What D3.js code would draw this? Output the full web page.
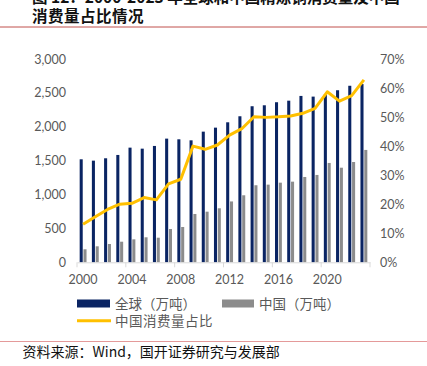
<!DOCTYPE html>
<html>
<head>
<meta charset="utf-8">
<script src="https://cdn.jsdelivr.net/npm/d3@7"></script>
<style>
  html, body { margin: 0; padding: 0; background: #fff; }
  svg { display: block; }
</style>
</head>
<body>
<div id="chart"></div>
<script>
// data
var years = d3.range(2000, 2024);
var globalUse = [1520, 1500, 1535, 1584, 1692, 1677, 1717, 1825, 1815, 1800, 1928, 1987,
  2066, 2155, 2303, 2317, 2362, 2385, 2455, 2445, 2480, 2539, 2605, 2630];
var chinaUse = [192, 236, 270, 304, 339, 369, 363, 491, 521, 713, 747, 797,
  898, 989, 1137, 1146, 1175, 1190, 1259, 1289, 1466, 1396, 1480, 1658];
var chinaShare = [0.131, 0.157, 0.182, 0.200, 0.203, 0.223, 0.215, 0.270, 0.286, 0.400, 0.389, 0.404,
  0.438, 0.460, 0.501, 0.499, 0.501, 0.504, 0.513, 0.530, 0.587, 0.555, 0.574, 0.628];
var leftTicks = [0, 500, 1000, 1500, 2000, 2500, 3000];
var rightTicks = [0, 0.1, 0.2, 0.3, 0.4, 0.5, 0.6, 0.7];
var xLabelYears = [2000, 2004, 2008, 2012, 2016, 2020];

var width = 427, height = 366;
var plot = { left: 77, right: 370, top: 59, bottom: 262.3 };
var navy = "#0a2463", grey = "#8c8c8c", gold = "#ffc000", textGrey = "#595959";
var numFont = "Lato, 'Liberation Sans', sans-serif";
var cjkFont = "'Noto Sans CJK SC', sans-serif";

var svg = d3.select("#chart").append("svg").attr("width", width).attr("height", height);

// title (first line is cut by the top edge)
svg.append("text").attr("x", 32).attr("y", 2.5)
  .style("font", "bold 15.5px " + cjkFont).attr("fill", "#111")
  .text("图 12：2000-2023 年全球和中国精炼铜消费量及中国");
svg.append("text").attr("x", 32).attr("y", 22)
  .style("font", "bold 15.5px " + cjkFont).attr("fill", "#111")
  .style("letter-spacing", "0.5px")
  .text("消费量占比情况");
svg.append("line").attr("x1", 0).attr("x2", width).attr("y1", 27).attr("y2", 27)
  .attr("stroke", "#c0504d").attr("stroke-width", 1);

var x = d3.scaleBand().domain(years).range([plot.left, plot.right]);
var xs = d3.scaleBand().domain(["global", "china"]).range([0, x.bandwidth()])
  .paddingInner(0.2).paddingOuter(0.7);
var yL = d3.scaleLinear().domain([0, 3000]).range([plot.bottom, plot.top]);
var yR = d3.scaleLinear().domain([0, 0.7]).range([plot.bottom, plot.top]);

// left axis
var gL = svg.append("g").attr("transform", "translate(" + (plot.left - 11) + ",0)")
  .call(d3.axisLeft(yL).tickValues(leftTicks).tickSize(0).tickPadding(0).tickFormat(d3.format(",")));
gL.select(".domain").remove();
gL.selectAll("text").attr("fill", textGrey).style("font", "12.5px " + numFont);

// right axis
var gR = svg.append("g").attr("transform", "translate(" + (plot.right + 10) + ",0)")
  .call(d3.axisRight(yR).tickValues(rightTicks).tickSize(0).tickPadding(0).tickFormat(d3.format(".0%")));
gR.select(".domain").remove();
gR.selectAll("text").attr("fill", textGrey).style("font", "12.5px " + numFont);

// bars
svg.append("g").selectAll("rect.g").data(years).enter().append("rect")
  .attr("x", function (d) { return x(d) + xs("global"); })
  .attr("width", xs.bandwidth())
  .attr("y", function (d, i) { return yL(globalUse[i]); })
  .attr("height", function (d, i) { return yL(0) - yL(globalUse[i]); })
  .attr("fill", navy);
svg.append("g").selectAll("rect.c").data(years).enter().append("rect")
  .attr("x", function (d) { return x(d) + xs("china"); })
  .attr("width", xs.bandwidth())
  .attr("y", function (d, i) { return yL(chinaUse[i]); })
  .attr("height", function (d, i) { return yL(0) - yL(chinaUse[i]); })
  .attr("fill", grey);

// x axis
var gX = svg.append("g").attr("transform", "translate(0," + plot.bottom + ")")
  .call(d3.axisBottom(x).tickValues(xLabelYears).tickSize(0).tickPadding(13));
gX.select(".domain").attr("stroke", "#d9d9d9");
gX.selectAll("text").attr("fill", textGrey).style("font", "12.5px " + numFont);
var tickPos = years.filter(function (d) { return (d - 2000) % 4 === 0; }).map(function (d) { return x(d); });
tickPos.push(plot.right);
gX.selectAll("line.tk").data(tickPos).enter().append("line")
  .attr("x1", function (d) { return d; }).attr("x2", function (d) { return d; })
  .attr("y1", 0).attr("y2", 5).attr("stroke", "#d9d9d9");

// share line
var line = d3.line()
  .x(function (d, i) { return x(years[i]) + x.bandwidth() / 2; })
  .y(function (d) { return yR(d); });
svg.append("path").datum(chinaShare).attr("d", line)
  .attr("fill", "none").attr("stroke", gold).attr("stroke-width", 3).attr("stroke-linejoin", "round");

// legend
var lg = svg.append("g").style("font", "13.5px " + cjkFont).attr("fill", textGrey);
lg.append("rect").attr("x", 77).attr("y", 299.5).attr("width", 33).attr("height", 8).attr("fill", navy);
lg.append("text").attr("x", 115).attr("y", 308.5).text("全球（万吨）");
lg.append("rect").attr("x", 222).attr("y", 299.5).attr("width", 32).attr("height", 8).attr("fill", grey);
lg.append("text").attr("x", 259).attr("y", 308.5).text("中国（万吨）");
lg.append("line").attr("x1", 77).attr("x2", 111).attr("y1", 320.7).attr("y2", 320.7)
  .attr("stroke", gold).attr("stroke-width", 3);
lg.append("text").attr("x", 115).attr("y", 326).style("letter-spacing", "0.5px").text("中国消费量占比");

// source
svg.append("line").attr("x1", 0).attr("x2", width).attr("y1", 341.5).attr("y2", 341.5)
  .attr("stroke", "#e49a9a").attr("stroke-width", 1);
svg.append("text").attr("x", 22.5).attr("y", 357)
  .style("font", "14px " + cjkFont).attr("fill", "#111")
  .text("资料来源：Wind，国开证券研究与发展部");
</script>
</body>
</html>
